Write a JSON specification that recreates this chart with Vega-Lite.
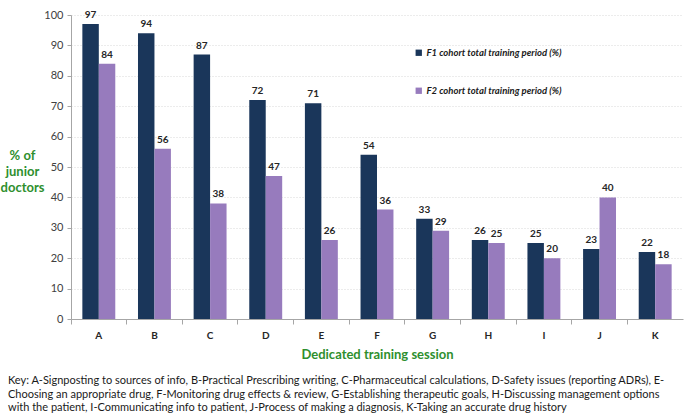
{
  "$schema": "https://vega.github.io/schema/vega-lite/v6.json",
  "width": 612,
  "height": 304,
  "autosize": {"type": "none"},
  "padding": {"left": 71, "top": 15, "right": 2, "bottom": 98},
  "background": "white",
  "config": {"font": "Lato", "view": {"stroke": null}},
  "title": {
    "text": [
      "Key:  A-Signposting to sources of info, B-Practical Prescribing writing, C-Pharmaceutical calculations, D-Safety issues (reporting ADRs), E-",
      "Choosing an appropriate drug, F-Monitoring drug effects & review, G-Establishing therapeutic goals, H-Discussing management options",
      "with the patient, I-Communicating info to patient, J-Process of making a diagnosis, K-Taking an accurate drug history"
    ],
    "orient": "bottom",
    "anchor": "start",
    "frame": "group",
    "dx": -63,
    "offset": 14,
    "fontSize": 11,
    "fontWeight": "normal",
    "lineHeight": 13.5,
    "color": "#1a1a1a",
    "font": "Lato"
  },
  "data": {
    "values": [
      {"session": "A", "cohort": "F1 cohort total training period (%)", "value": 97},
      {"session": "A", "cohort": "F2 cohort total training period (%)", "value": 84},
      {"session": "B", "cohort": "F1 cohort total training period (%)", "value": 94},
      {"session": "B", "cohort": "F2 cohort total training period (%)", "value": 56},
      {"session": "C", "cohort": "F1 cohort total training period (%)", "value": 87},
      {"session": "C", "cohort": "F2 cohort total training period (%)", "value": 38},
      {"session": "D", "cohort": "F1 cohort total training period (%)", "value": 72},
      {"session": "D", "cohort": "F2 cohort total training period (%)", "value": 47},
      {"session": "E", "cohort": "F1 cohort total training period (%)", "value": 71},
      {"session": "E", "cohort": "F2 cohort total training period (%)", "value": 26},
      {"session": "F", "cohort": "F1 cohort total training period (%)", "value": 54},
      {"session": "F", "cohort": "F2 cohort total training period (%)", "value": 36},
      {"session": "G", "cohort": "F1 cohort total training period (%)", "value": 33},
      {"session": "G", "cohort": "F2 cohort total training period (%)", "value": 29},
      {"session": "H", "cohort": "F1 cohort total training period (%)", "value": 26},
      {"session": "H", "cohort": "F2 cohort total training period (%)", "value": 25},
      {"session": "I", "cohort": "F1 cohort total training period (%)", "value": 25},
      {"session": "I", "cohort": "F2 cohort total training period (%)", "value": 20},
      {"session": "J", "cohort": "F1 cohort total training period (%)", "value": 23},
      {"session": "J", "cohort": "F2 cohort total training period (%)", "value": 40},
      {"session": "K", "cohort": "F1 cohort total training period (%)", "value": 22},
      {"session": "K", "cohort": "F2 cohort total training period (%)", "value": 18}
    ]
  },
  "encoding": {
    "x": {
      "field": "session",
      "type": "nominal",
      "scale": {"paddingInner": 0, "paddingOuter": 0},
      "axis": {
        "title": "Dedicated training session",
        "titleFontSize": 13,
        "titleFontWeight": "bold",
        "titleColor": "#2e8f2e",
        "titlePadding": 8,
        "labelAngle": 0,
        "labelFontSize": 10,
        "labelFontWeight": "bold",
        "labelColor": "#262626",
        "labelPadding": 6,
        "bandPosition": 0,
        "tickSize": 5,
        "tickColor": "#a6a6a6",
        "domainColor": "#a6a6a6",
        "grid": false
      }
    },
    "xOffset": {
      "field": "cohort",
      "type": "nominal",
      "scale": {"paddingInner": 0, "paddingOuter": 0.69}
    },
    "y": {
      "field": "value",
      "type": "quantitative",
      "scale": {"domain": [0, 100], "nice": false},
      "axis": {
        "title": ["% of", "junior", "doctors"],
        "titleAngle": 0,
        "titleAlign": "center",
        "titleBaseline": "top",
        "titleX": -49,
        "titleY": 134,
        "titleFontSize": 13,
        "titleFontWeight": "bold",
        "titleColor": "#2e8f2e",
        "titleLineHeight": 16,
        "values": [0, 10, 20, 30, 40, 50, 60, 70, 80, 90, 100],
        "labelOverlap": false,
        "labelFontSize": 11,
        "labelColor": "#404040",
        "labelPadding": 4,
        "tickSize": 4,
        "tickColor": "#a6a6a6",
        "domainColor": "#a6a6a6",
        "gridColor": "#d9d9d9",
        "gridDash": [1, 2]
      }
    }
  },
  "layer": [
    {
      "mark": {"type": "bar"},
      "encoding": {
        "color": {
          "field": "cohort",
          "type": "nominal",
          "scale": {
            "domain": ["F1 cohort total training period (%)", "F2 cohort total training period (%)"],
            "range": ["#1a365a", "#977bbd"]
          },
          "legend": {
            "title": null,
            "orient": "none",
            "legendX": 343,
            "legendY": 33,
            "direction": "vertical",
            "symbolType": "square",
            "symbolSize": 40,
            "symbolStrokeWidth": 0,
            "labelFont": "Lato",
            "labelFontSize": 9.5,
            "labelFontStyle": "italic",
            "labelFontWeight": "bold",
            "labelColor": "#1a1a1a",
            "labelOffset": 3,
            "rowPadding": 27
          }
        }
      }
    },
    {
      "mark": {"type": "text", "baseline": "bottom", "dy": -4, "fontSize": 10, "fontWeight": "bold", "color": "#262626"},
      "encoding": {
        "text": {"field": "value", "type": "quantitative"}
      }
    }
  ]
}
